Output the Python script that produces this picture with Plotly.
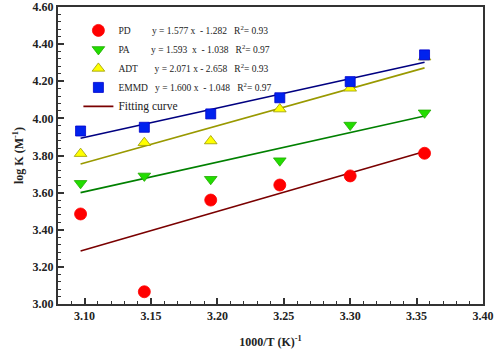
import plotly.graph_objects as go

x_vals = [3.097, 3.145, 3.195, 3.247, 3.300, 3.356]
pd_vals = [3.485, 3.066, 3.560, 3.641, 3.690, 3.812]
pa_vals = [3.650, 3.690, 3.672, 3.772, 3.964, 4.030]
adt_vals = [3.810, 3.869, 3.878, 4.050, 4.162, 4.330]
emmd_vals = [3.932, 3.952, 4.024, 4.111, 4.198, 4.342]

fit_x = [3.097, 3.356]
pd_fit = [3.286, 3.822]
pa_fit = [3.600, 4.013]
adt_fit = [3.754, 4.272]
emmd_fit = [3.893, 4.302]

names = ["PD", "PA", "ADT", "EMMD"]
equations = [
    "y = 1.577 x  - 1.282   R<sup>2</sup>= 0.93",
    "y = 1.593  x  - 1.038   R<sup>2</sup>= 0.97",
    "y = 2.071 x - 2.658   R<sup>2</sup>= 0.93",
    "y = 1.600 x  - 1.048   R<sup>2</sup>= 0.97",
]
x_ticks = [3.10, 3.15, 3.20, 3.25, 3.30, 3.35, 3.40]
y_ticks = [3.00, 3.20, 3.40, 3.60, 3.80, 4.00, 4.20, 4.40, 4.60]
x_range = [3.08, 3.40]
y_range = [3.0, 4.6]

FONT = "Liberation Serif"

series = [pd_vals, pa_vals, adt_vals, emmd_vals]
fits = [pd_fit, pa_fit, adt_fit, emmd_fit]
symbols = ["circle", "triangle-down", "triangle-up", "square"]
fills = ["#ff0000", "#22dd00", "#ffff00", "#0022ee"]
edges = ["#ff0000", "#22aa00", "#999900", "#0000cc"]
sizes = [12, 11, 11, 10]
line_colors = ["#7a0000", "#008000", "#999900", "#000080"]

W, H = 496, 363
ML, MR, MT, MB = 58, 13, 7, 59
AXC = "#333333"

fig = go.Figure()

for i in range(4):
    fig.add_trace(go.Scatter(
        x=fit_x, y=fits[i], mode="lines",
        line=dict(color=line_colors[i], width=1.6),
        showlegend=(i == 0),
        name='<span style="font-size:11.5px">Fitting curve</span>',
        legendrank=10, hoverinfo="skip",
    ))

pads = ["PD&nbsp;&nbsp;&nbsp;&nbsp;&nbsp;&nbsp;&nbsp;&nbsp;&nbsp;",
        "PA&nbsp;&nbsp;&nbsp;&nbsp;&nbsp;&nbsp;&nbsp;&nbsp;&nbsp;",
        "ADT&nbsp;&nbsp;&nbsp;&nbsp;&nbsp;&nbsp;&nbsp;",
        "EMMD&nbsp;&nbsp;&nbsp;"]
for i in range(4):
    fig.add_trace(go.Scatter(
        x=x_vals, y=series[i], mode="markers",
        marker=dict(symbol=symbols[i], size=sizes[i], color=fills[i],
                    line=dict(color=edges[i], width=0.8)),
        name=pads[i] + equations[i],
        legendrank=i + 1,
    ))

axis_common = dict(
    showline=True, linecolor=AXC, linewidth=2, mirror=True,
    ticks="inside", ticklen=6, tickwidth=1.5, tickcolor=AXC,
    showgrid=False, zeroline=False, automargin=False,
    ticklabeloverflow="allow",
    tickfont=dict(family=FONT, size=12, color="#222222"),
)

fig.update_xaxes(
    range=x_range, tickvals=x_ticks, ticktext=[f"<b>{v:.2f}</b>" for v in x_ticks],
    minor=dict(dtick=0.01, ticks="inside", ticklen=3, tickcolor=AXC, tickwidth=1.2),
    title=dict(text="<b>1000/T (K)<sup>-1</sup></b>", font=dict(family=FONT, size=12, color="#222222"), standoff=15),
    **axis_common,
)
fig.update_yaxes(
    range=y_range, tickvals=y_ticks, ticktext=[f"<b>{v:.2f}</b>" for v in y_ticks],
    minor=dict(dtick=0.04, ticks="inside", ticklen=3, tickcolor=AXC, tickwidth=1.2),
    title=dict(text="<b>log K (M<sup>-1</sup>)</b>", font=dict(family=FONT, size=12, color="#222222"), standoff=6),
    **axis_common,
)

fig.update_layout(
    width=W, height=H,
    margin=dict(l=ML, r=MR, t=MT, b=MB),
    plot_bgcolor="white", paper_bgcolor="white",
    legend=dict(
        x=0.048, y=0.97, xanchor="left", yanchor="top",
        font=dict(family=FONT, size=9.5, color="#222222"),
        bgcolor="rgba(0,0,0,0)", tracegroupgap=0, itemwidth=30,
    ),
    showlegend=True,
)

fig.write_html("out.html", config={"displayModeBar": False},
               post_script="document.body.style.margin='0';document.body.style.overflow='hidden';")
